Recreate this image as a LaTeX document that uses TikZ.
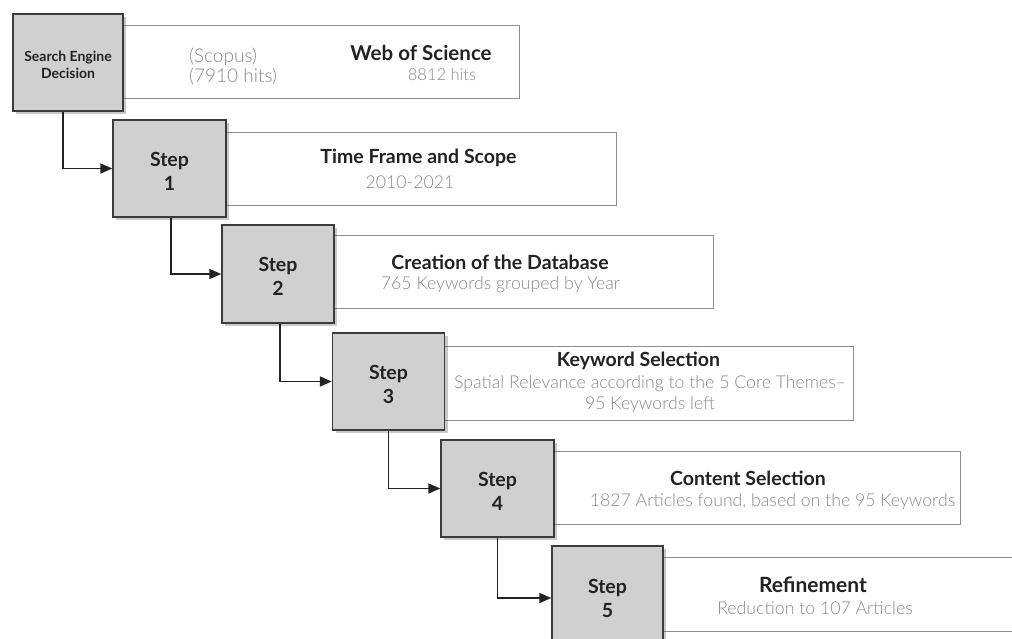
\documentclass[tikz,border=0pt]{standalone}
\usepackage{fontspec}
\setmainfont{Lato}
\newfontfamily\lightfont{Lato Light}
\usetikzlibrary{arrows.meta,shadows}
\definecolor{boxfill}{HTML}{D0D0D0}
\definecolor{boxline}{HTML}{3C3C3C}
\definecolor{frameline}{HTML}{8E8E8E}
\definecolor{subtext}{HTML}{8A8A8A}
\definecolor{titletext}{HTML}{222222}
\tikzset{
  x=1pt, y=-1pt,
  graybox/.style={draw=boxline, line width=1.4pt, fill=boxfill, inner sep=0pt,
    drop shadow={shadow xshift=3pt, shadow yshift=-3pt, opacity=0.3, fill=black!70}},
  steplabel/.style={align=center, text=titletext, inner sep=0pt,
    font=\bfseries\fontsize{19.5}{24}\selectfont},
  framebox/.style={draw=frameline, line width=1pt, fill=white, inner sep=0pt},
  title/.style={font=\bfseries\fontsize{19.5}{22}\selectfont, text=titletext, inner sep=0pt},
  sub/.style={font=\lightfont\fontsize{17.7}{21}\selectfont, text=subtext, inner sep=0pt, align=center},
  conn/.style={draw=titletext, line width=1.7pt, -{Triangle[length=12pt,width=10pt]}},
}
\begin{document}
\begin{tikzpicture}
\useasboundingbox (0,0) rectangle (1012,639);
% frames
\node[framebox, minimum width=396pt, minimum height=73pt] (t0) at (321,62.5) {};
\node[framebox, minimum width=390pt, minimum height=73pt] (t1) at (421,169) {};
\node[framebox, minimum width=380pt, minimum height=72pt] (t2) at (523,272) {};
\node[framebox, minimum width=410pt, minimum height=74pt] (t3) at (648,383) {};
\node[framebox, minimum width=407pt, minimum height=73pt] (t4) at (756.5,487.5) {};
\node[framebox, minimum width=370pt, minimum height=74pt] (t5) at (848,594) {};
% gray boxes
\node[graybox, minimum width=110pt, minimum height=97pt] (s0) at (68,62.5) {};
\node[graybox, minimum width=113pt, minimum height=97pt] (s1) at (169.5,168.5) {};
\node[graybox, minimum width=112pt, minimum height=98pt] (s2) at (278,274) {};
\node[graybox, minimum width=112pt, minimum height=97pt] (s3) at (388.5,381.5) {};
\node[graybox, minimum width=113pt, minimum height=97pt] (s4) at (497.5,488.5) {};
\node[graybox, minimum width=111pt, minimum height=104pt] (s5) at (607.5,598) {};
% box labels
\node[steplabel, font=\bfseries\fontsize{14}{17}\selectfont, yshift=-2pt] (l0) at (s0.center) {Search Engine\\Decision};
\node[steplabel, yshift=-2.5pt] (l1) at (s1.center) {Step\\1};
\node[steplabel, yshift=-2.5pt] (l2) at (s2.center) {Step\\2};
\node[steplabel, yshift=-2.5pt] (l3) at (s3.center) {Step\\3};
\node[steplabel, yshift=-2.5pt] (l4) at (s4.center) {Step\\4};
\node[steplabel] (l5) at (s5.center) {Step\\5};
% connectors
\draw[conn] ([xshift=-5pt]s0.south) |- (s1.west);
\draw[conn] ([xshift=1.5pt]s1.south) |- (s2.west);
\draw[conn] ([xshift=2pt]s2.south) |- (s3.west);
\draw[conn] (s3.south) |- (s4.west);
\draw[conn] (s4.south) |- (s5.west);
% texts
\node[sub, font=\lightfont\fontsize{19}{21}\selectfont, anchor=west] (a0) at (189,57) {(Scopus)};
\node[sub, font=\lightfont\fontsize{19}{21}\selectfont, anchor=west] (b0) at (189,77) {(7910 hits)};
\node[title, font=\bfseries\fontsize{20.5}{22}\selectfont] (c0) at (421,53) {Web of Science};
\node[sub, font=\lightfont\fontsize{16.5}{20}\selectfont] (d0) at (442,75) {8812 hits};
\node[title] (a1) at (418.5,158) {Time Frame and Scope};
\node[sub] (b1) at (410,182) {2010-2021};
\node[title] (a2) at (500,262) {Creation of the Database};
\node[sub] (b2) at (500.5,285) {765 Keywords grouped by Year};
\node[title] (a3) at (638.5,361) {Keyword Selection};
\node[sub] (b3) at (650,394.5) {Spatial Relevance according to the 5 Core Themes–\\95 Keywords left};
\node[title] (a4) at (748,478) {Content Selection};
\node[sub] (b4) at (772.5,502) {1827 Articles found, based on the 95 Keywords};
\node[title, font=\bfseries\fontsize{21}{22}\selectfont] (a5) at (813,585) {Refinement};
\node[sub] (b5) at (815,608) {Reduction to 107 Articles};
\end{tikzpicture}
\end{document}
